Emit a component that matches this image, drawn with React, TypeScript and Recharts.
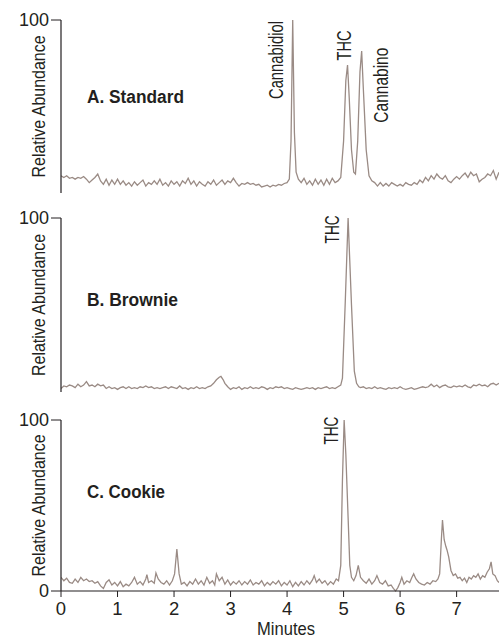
import React from "react";
import {
  LineChart,
  Line,
  XAxis,
  YAxis,
  ReferenceDot,
  Label,
} from "recharts";

// retention time (min), relative abundance (%)
const standardTrace: [number, number][] = [
  [0.0, 10], [0.05, 9], [0.1, 10], [0.15, 8.5], [0.2, 9], [0.25, 8], [0.3, 9], [0.35, 8.5],
  [0.4, 9.5], [0.45, 8], [0.5, 6], [0.55, 7.5], [0.6, 9], [0.65, 11], [0.7, 7], [0.75, 5],
  [0.8, 8], [0.85, 4.5], [0.9, 7.5], [0.95, 5], [1.0, 8], [1.05, 5], [1.1, 7], [1.15, 4.5],
  [1.2, 6], [1.25, 4], [1.3, 6.5], [1.35, 4.5], [1.4, 6], [1.45, 7.5], [1.5, 4], [1.55, 6],
  [1.6, 5], [1.65, 7], [1.7, 5], [1.75, 8], [1.8, 4.5], [1.85, 6], [1.9, 4], [1.95, 7],
  [2.0, 5], [2.05, 6.5], [2.1, 4], [2.15, 7], [2.2, 5.5], [2.25, 8.5], [2.3, 5], [2.35, 7],
  [2.4, 4], [2.45, 6.5], [2.5, 5], [2.55, 4], [2.6, 6.5], [2.65, 5], [2.7, 7.5], [2.75, 4.5],
  [2.8, 6], [2.85, 7.5], [2.9, 5], [2.95, 7], [3.0, 6], [3.05, 8.5], [3.1, 6], [3.15, 4],
  [3.2, 5.5], [3.25, 5], [3.3, 6], [3.35, 5], [3.4, 5.5], [3.45, 4.5], [3.5, 5], [3.55, 3.5],
  [3.6, 4], [3.65, 4.5], [3.7, 3.5], [3.75, 4.5], [3.8, 4], [3.85, 5], [3.9, 4.5], [3.95, 5.5],
  [4.0, 6], [4.04, 8], [4.07, 30], [4.1, 100], [4.13, 35], [4.16, 12], [4.2, 8], [4.25, 6],
  [4.3, 8.5], [4.35, 5], [4.4, 7], [4.45, 4.5], [4.5, 8], [4.55, 5], [4.6, 7.5], [4.65, 4.5],
  [4.7, 8], [4.75, 5], [4.8, 8.5], [4.85, 6], [4.9, 7], [4.95, 9], [5.0, 30], [5.04, 65],
  [5.07, 74], [5.1, 55], [5.14, 25], [5.18, 12], [5.21, 11], [5.25, 30], [5.29, 70], [5.32, 82],
  [5.35, 60], [5.4, 25], [5.45, 10], [5.5, 7], [5.55, 6], [5.6, 4], [5.65, 6], [5.7, 4],
  [5.75, 5.5], [5.8, 4], [5.85, 6], [5.9, 5], [5.95, 4], [6.0, 5], [6.05, 4], [6.1, 6],
  [6.15, 5], [6.2, 4.5], [6.25, 6], [6.3, 5], [6.35, 7.5], [6.4, 6], [6.45, 9], [6.5, 7],
  [6.55, 10], [6.6, 8], [6.65, 11], [6.7, 9], [6.75, 8], [6.8, 10], [6.85, 7], [6.9, 6],
  [6.95, 8], [7.0, 9.5], [7.05, 8], [7.1, 10], [7.15, 11.5], [7.2, 9], [7.25, 12], [7.3, 10],
  [7.35, 11], [7.4, 6.5], [7.45, 8], [7.5, 9], [7.55, 11], [7.6, 10], [7.65, 13], [7.7, 8],
  [7.75, 12],
];

const brownieTrace: [number, number][] = [
  [0.0, 2], [0.05, 3.5], [0.1, 3], [0.15, 4], [0.2, 3.5], [0.25, 2.5], [0.3, 4.5], [0.35, 3],
  [0.4, 4], [0.45, 6], [0.5, 3.5], [0.55, 4], [0.6, 3], [0.65, 4.5], [0.7, 3.5], [0.75, 4],
  [0.8, 2], [0.85, 3], [0.9, 2], [0.95, 2.5], [1.0, 1.5], [1.05, 2.5], [1.1, 3], [1.15, 2],
  [1.2, 3], [1.25, 2], [1.3, 2.5], [1.35, 2], [1.4, 3], [1.45, 2.5], [1.5, 3.5], [1.55, 2.5],
  [1.6, 3], [1.65, 2], [1.7, 2.5], [1.75, 2], [1.8, 2.5], [1.85, 3], [1.9, 2], [1.95, 3],
  [2.0, 2.5], [2.05, 2], [2.1, 3.5], [2.15, 2], [2.2, 2.5], [2.25, 1.5], [2.3, 2.5], [2.35, 2],
  [2.4, 3], [2.45, 2], [2.5, 2.5], [2.55, 2], [2.6, 3], [2.65, 3.5], [2.7, 5], [2.75, 7],
  [2.8, 8.5], [2.83, 9], [2.87, 7], [2.9, 5], [2.95, 3], [3.0, 1.5], [3.05, 2.5], [3.1, 2],
  [3.15, 3], [3.2, 1.5], [3.25, 2.5], [3.3, 2], [3.35, 3], [3.4, 2], [3.45, 2.5], [3.5, 2],
  [3.55, 3], [3.6, 2.5], [3.65, 1.5], [3.7, 2.5], [3.75, 2], [3.8, 3], [3.85, 2.5], [3.9, 3],
  [3.95, 2], [4.0, 2.5], [4.05, 2], [4.1, 1.5], [4.15, 2.5], [4.2, 2], [4.25, 1.5], [4.3, 2],
  [4.35, 2.5], [4.4, 2], [4.45, 2.5], [4.5, 1.5], [4.55, 2.5], [4.6, 2], [4.65, 2.5], [4.7, 3],
  [4.75, 2], [4.8, 2.5], [4.85, 2], [4.9, 3], [4.95, 4], [4.98, 8], [5.03, 52], [5.08, 100],
  [5.14, 50], [5.19, 12], [5.23, 5], [5.27, 3], [5.3, 2.5], [5.35, 3], [5.4, 2], [5.45, 2.5],
  [5.5, 2], [5.55, 3], [5.6, 2], [5.65, 2.5], [5.7, 2], [5.75, 1.5], [5.8, 2.5], [5.85, 2],
  [5.9, 2.5], [5.95, 2], [6.0, 3], [6.05, 2], [6.1, 1.5], [6.15, 2], [6.2, 2.5], [6.25, 1.5],
  [6.3, 2], [6.35, 2.5], [6.4, 3], [6.45, 2.5], [6.5, 3], [6.55, 4.5], [6.6, 3], [6.65, 4],
  [6.7, 2.5], [6.75, 3.5], [6.8, 4], [6.85, 3], [6.9, 2.5], [6.95, 3.5], [7.0, 3], [7.05, 3.5],
  [7.1, 3], [7.15, 4], [7.2, 3], [7.25, 2.5], [7.3, 4], [7.35, 3.5], [7.4, 4.5], [7.45, 3.5],
  [7.5, 4], [7.55, 3], [7.6, 4.5], [7.65, 5], [7.7, 4], [7.75, 5],
];

const cookieTrace: [number, number][] = [
  [0.0, 8], [0.05, 6], [0.1, 7.5], [0.15, 5], [0.2, 4.5], [0.25, 7], [0.3, 5], [0.35, 8],
  [0.4, 6], [0.45, 7], [0.5, 5.5], [0.55, 6], [0.6, 4.5], [0.65, 5.5], [0.7, 3], [0.75, 1.5],
  [0.8, 5], [0.85, 6.5], [0.9, 3.5], [0.95, 5], [1.0, 3], [1.05, 5.5], [1.1, 2.5], [1.15, 4],
  [1.2, 3], [1.25, 5], [1.3, 8], [1.35, 4], [1.4, 5.5], [1.45, 3.5], [1.5, 7], [1.52, 9.5],
  [1.55, 5], [1.6, 6], [1.65, 4.5], [1.68, 10.5], [1.72, 7], [1.77, 5], [1.82, 4], [1.87, 6],
  [1.92, 3.5], [1.97, 6], [2.01, 10], [2.05, 24.5], [2.09, 10], [2.13, 4], [2.18, 5], [2.23, 3],
  [2.28, 5.5], [2.33, 4], [2.38, 7], [2.43, 4], [2.48, 6], [2.53, 3.5], [2.58, 8], [2.63, 4.5],
  [2.68, 6], [2.72, 3.5], [2.75, 10], [2.8, 6], [2.85, 8], [2.9, 4], [2.95, 6.5], [3.0, 3.5],
  [3.05, 5.5], [3.1, 4], [3.15, 6], [3.2, 3.5], [3.25, 5.5], [3.3, 4], [3.35, 6.5], [3.4, 3.5],
  [3.45, 5], [3.5, 4], [3.55, 6], [3.6, 3], [3.65, 5], [3.7, 3.5], [3.75, 5.5], [3.8, 4],
  [3.85, 6], [3.9, 3], [3.95, 5], [4.0, 3.5], [4.05, 6], [4.1, 2.5], [4.15, 5], [4.2, 3],
  [4.25, 5.5], [4.3, 3.5], [4.35, 6], [4.4, 4], [4.45, 6.5], [4.48, 9], [4.52, 5], [4.57, 7],
  [4.62, 4.5], [4.67, 6], [4.72, 3.5], [4.77, 5.5], [4.82, 4], [4.87, 7], [4.91, 6], [4.95, 15],
  [4.98, 65], [5.01, 100], [5.04, 80], [5.08, 43], [5.11, 15], [5.14, 8], [5.18, 6], [5.22, 9],
  [5.26, 15], [5.3, 8], [5.35, 6], [5.4, 4.5], [5.45, 7], [5.5, 4], [5.55, 6], [5.59, 9],
  [5.64, 5], [5.69, 4], [5.74, 6], [5.79, 3], [5.84, 3.5], [5.88, 1.5], [5.92, 0], [5.96, 2],
  [6.0, 5], [6.03, 8], [6.07, 4], [6.12, 6], [6.17, 5], [6.21, 8], [6.24, 10], [6.28, 7],
  [6.33, 5], [6.38, 4], [6.43, 3.5], [6.48, 5], [6.53, 4], [6.58, 6], [6.63, 5.5], [6.67, 7],
  [6.7, 10], [6.73, 30], [6.75, 41.5], [6.78, 30], [6.81, 26], [6.83, 24], [6.86, 20], [6.9, 12],
  [6.94, 9], [6.98, 10], [7.02, 7.5], [7.06, 8], [7.1, 6], [7.14, 7.5], [7.18, 5], [7.22, 8],
  [7.26, 7], [7.3, 9], [7.34, 8], [7.38, 10], [7.42, 7], [7.46, 9], [7.5, 8], [7.54, 11],
  [7.58, 13], [7.61, 17], [7.64, 10], [7.68, 9], [7.72, 6], [7.75, 5],
];

const minuteTicks = [0, 1, 2, 3, 4, 5, 6, 7];
const abundanceTicks = [0, 100];

// [label, minutes, abundance at the label's top, text length]
const standardPeaks: [string, number, number, number][] = [
  ["Cannabidiol", 3.93, 99.4, 78],
  ["THC", 5.13, 94, 30],
  ["Cannabino", 5.785, 84, 75],
];
const browniePeaks: [string, number, number, number][] = [["THC", 4.92, 101.5, 28]];
const cookiePeaks: [string, number, number, number][] = [["THC", 4.9, 102, 28]];

// the original uses a condensed grotesque: Arial-metric text squeezed horizontally
const SANS = '"Liberation Sans", Arial, Helvetica, sans-serif';
const TRACE = "#9a8b85";
const INK = "#231f20";

const toRows = (trace: [number, number][]) => trace.map(([t, v]) => ({ t, v }));

// text drawn at (x, y), rotated if needed, condensed by `squeeze`, ending up `len` px long
const Condensed = ({ x, y, text, len, size, squeeze, rotate, anchor, bold }: any) => (
  <text
    x={0}
    y={0}
    transform={`translate(${x} ${y})${rotate ? " rotate(-90)" : ""} scale(${squeeze} 1)`}
    textAnchor={anchor}
    fontFamily={SANS}
    fontWeight={bold ? "bold" : "normal"}
    fontSize={size}
    textLength={len / squeeze}
    lengthAdjust="spacingAndGlyphs"
    fill={INK}
  >
    {text}
  </text>
);

const YTick = (props: any) => {
  const { x, y, payload } = props;
  return (
    <text x={x} y={y} dy={6} textAnchor="end" fontFamily={SANS} fontSize={18} fill={INK}>
      {payload.value}
    </text>
  );
};

const XTick = (props: any) => {
  const { x, y, payload } = props;
  return (
    <text x={x} y={y} dy={11.5} textAnchor="middle" fontFamily={SANS} fontSize={18.5} fill={INK}>
      {payload.value}
    </text>
  );
};

const PeakName = (props: any) => {
  const { viewBox, text, len } = props;
  return (
    <Condensed x={viewBox.x} y={viewBox.y} text={text} len={len} size={20} squeeze={0.74} rotate anchor="end" />
  );
};

const PanelTitle = (props: any) => {
  const { viewBox, text, len } = props;
  return (
    <Condensed x={viewBox.x} y={viewBox.y} text={text} len={len} size={19} squeeze={0.9} anchor="start" bold />
  );
};

const AxisTitle = (props: any) => {
  const { viewBox } = props;
  return (
    <Condensed
      x={viewBox.x + 45}
      y={viewBox.y + viewBox.height / 2}
      text="Relative Abundance"
      len={142}
      size={19}
      squeeze={0.84}
      rotate
      anchor="middle"
    />
  );
};

const MinutesTitle = (props: any) => {
  const { viewBox } = props;
  return (
    <Condensed
      x={viewBox.x + viewBox.width / 2 + 6}
      y={viewBox.y + viewBox.height - 4}
      text="Minutes"
      len={58}
      size={18}
      squeeze={0.9}
      anchor="middle"
    />
  );
};

interface PanelProps {
  trace: [number, number][];
  peaks: [string, number, number, number][];
  title: string;
  titleLen: number;
  titleAt: [number, number];
  top: number;
  height: number;
  marginTop: number;
  marginBottom: number;
  bottomAxis?: boolean;
}

function Panel({ trace, peaks, title, titleLen, titleAt, top, height, marginTop, marginBottom, bottomAxis }: PanelProps) {
  return (
    <div style={{ position: "absolute", left: 0, top }}>
      <LineChart
        width={499}
        height={height}
        data={toRows(trace)}
        margin={{ top: marginTop, right: 0, bottom: marginBottom, left: 0 }}
      >
        <XAxis
          type="number"
          dataKey="t"
          domain={[0, 7.75]}
          ticks={minuteTicks}
          allowDataOverflow
          height={bottomAxis ? 48 : 0}
          tick={bottomAxis ? <XTick /> : false}
          tickLine={bottomAxis ? { stroke: INK } : false}
          tickSize={6}
          tickMargin={6}
          axisLine={{ stroke: INK, strokeWidth: 1.2 }}
        >
          {bottomAxis && <Label content={<MinutesTitle />} />}
        </XAxis>
        <YAxis
          type="number"
          domain={[0, 100]}
          ticks={abundanceTicks}
          width={61}
          tickSize={10}
          tickMargin={2}
          tick={<YTick />}
          tickLine={{ stroke: INK }}
          axisLine={{ stroke: INK, strokeWidth: 1.2 }}
          label={<AxisTitle />}
        />
        <Line
          type="linear"
          dataKey="v"
          stroke={TRACE}
          strokeWidth={1.3}
          dot={false}
          isAnimationActive={false}
        />
        <ReferenceDot
          x={titleAt[0]}
          y={titleAt[1]}
          r={0}
          stroke="none"
          ifOverflow="visible"
          label={<PanelTitle text={title} len={titleLen} />}
        />
        {peaks.map(([name, t, v, len]) => (
          <ReferenceDot
            key={name}
            x={t}
            y={v}
            r={0}
            stroke="none"
            ifOverflow="visible"
            label={<PeakName text={name} len={len} />}
          />
        ))}
      </LineChart>
    </div>
  );
}

export default function App() {
  return (
    <div
      style={{
        position: "absolute",
        left: 0,
        top: 0,
        width: 499,
        height: 639,
        background: "#fff",
        overflow: "hidden",
        fontFamily: SANS,
      }}
    >
      <Panel
        trace={standardTrace}
        peaks={standardPeaks}
        title="A. Standard"
        titleLen={97}
        titleAt={[0.46, 52]}
        top={0}
        height={200}
        marginTop={20}
        marginBottom={7}
      />
      <Panel
        trace={brownieTrace}
        peaks={browniePeaks}
        title="B. Brownie"
        titleLen={91}
        titleAt={[0.46, 49.5]}
        top={200}
        height={200}
        marginTop={18}
        marginBottom={8}
      />
      <Panel
        trace={cookieTrace}
        peaks={cookiePeaks}
        title="C. Cookie"
        titleLen={78}
        titleAt={[0.46, 54.5]}
        top={400}
        height={239}
        marginTop={20}
        marginBottom={0}
        bottomAxis
      />
    </div>
  );
}
